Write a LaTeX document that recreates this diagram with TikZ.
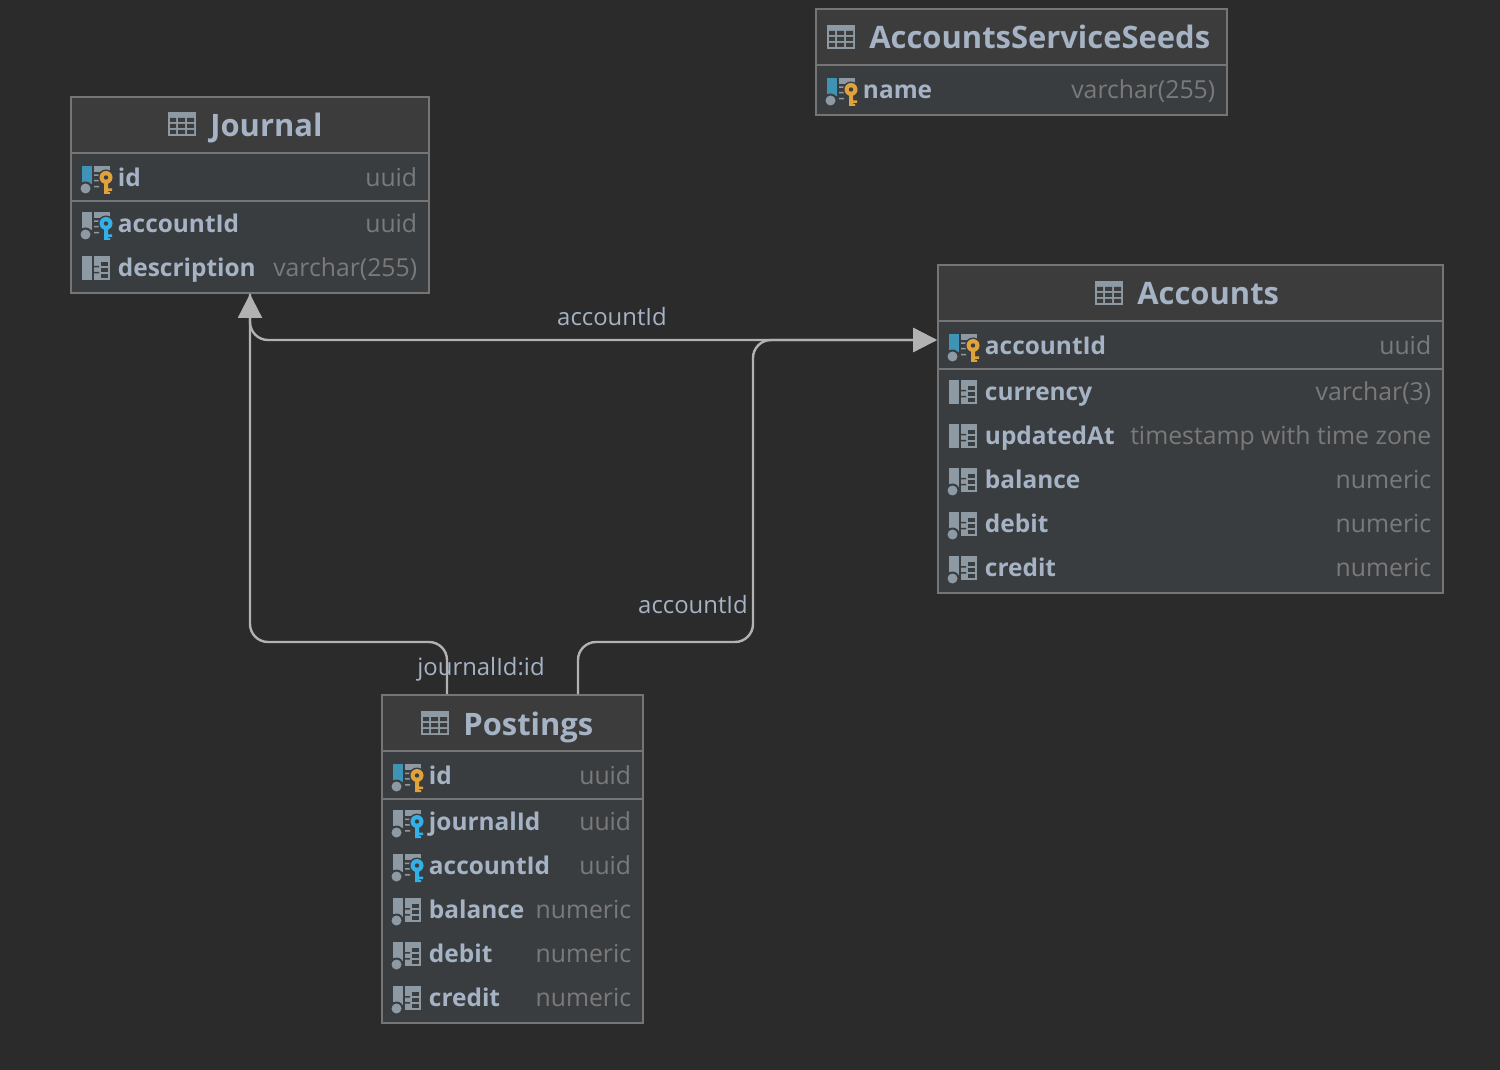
\documentclass[tikz,border=0pt]{standalone}
\usepackage{fontspec}
\setmainfont{Open Sans}
\usetikzlibrary{arrows.meta,fit}

\definecolor{canvasbg}{HTML}{2B2B2B}
\definecolor{headbg}{HTML}{3C3C3C}
\definecolor{rowbg}{HTML}{3A3D40}
\definecolor{framecol}{HTML}{757575}
\definecolor{textcol}{HTML}{A5B3C5}
\definecolor{typecol}{HTML}{7A7A7A}
\definecolor{relcol}{HTML}{B2B2B2}
\definecolor{iconcol}{HTML}{8D9AA3}
\definecolor{pkblue}{HTML}{3F94B5}
\definecolor{keyorange}{HTML}{E0A23B}
\definecolor{keycyan}{HTML}{35B0E6}

\tikzset{
  tablebox/.style={draw=framecol, fill=rowbg, line width=2*0.569pt, inner sep=0pt},
  headbox/.style={draw=framecol, fill=headbg, line width=2*0.569pt, inner sep=0pt},
  sepline/.style={draw=framecol, line width=2*0.569pt},
  titletext/.style={anchor=base west, inner sep=0pt, text=textcol, font=\fontsize{17.6}{20}\selectfont\bfseries},
  colname/.style={anchor=base west, inner sep=0pt, text=textcol, font=\fontsize{13.9}{16}\selectfont\bfseries},
  coltype/.style={anchor=base east, inner sep=0pt, text=typecol, font=\fontsize{14.1}{16}\selectfont},
  rellabel/.style={anchor=base, inner sep=0pt, text=textcol, font=\fontsize{13.6}{16}\selectfont},
  relline/.style={draw=relcol, line width=2.4*0.569pt, rounded corners=0.36cm},
  reltip/.style={-{Triangle[length=0.48cm,width=0.48cm,fill=relcol]}},
  pics/tableicon/.style={code={
    \fill [iconcol] (0,0) rectangle (28,24);
    \foreach \rowtop in {6,12,18} {
      \fill [headbg] (2,\rowtop) rectangle (8,\rowtop+4) (10,\rowtop) rectangle (17,\rowtop+4) (19,\rowtop) rectangle (26,\rowtop+4);
    }
  }},
  pics/gridpart/.style={code={
    \fill [iconcol] (12,0) rectangle (28,24);
    \foreach \rowtop in {6,12,18} {
      \fill [rowbg] (19,\rowtop) rectangle (26,\rowtop+4);
    }
    \fill [rowbg] (12,10) rectangle (17,11.5) (12,16) rectangle (17,17.5);
  }},
  pics/plainicon/.style={code={
    \fill [iconcol] (0,0) rectangle (10,24);
    \pic {gridpart};
  }},
  pics/nulicon/.style={code={
    \fill [iconcol] (0,0) rectangle (10,24);
    \pic {gridpart};
    \fill [rowbg] (3.5,22.5) circle [radius=7];
    \fill [iconcol] (3.5,22.5) circle [radius=5];
  }},
  pics/keyicon/.style 2 args={code={
    \fill [#1] (0,0) rectangle (10,18);
    \fill [rowbg] (3.5,22.5) circle [radius=7];
    \fill [iconcol] (3.5,22.5) circle [radius=5];
    \fill [iconcol] (12,0) rectangle (28,6);
    \fill [iconcol] (12,8.5) rectangle (17,10) (12,14) rectangle (17,15.5) (12,20) rectangle (17,21.5);
    \fill [rowbg] (24,11.5) circle [radius=8];
    \fill [#2] (24,11.5) circle [radius=6.5];
    \fill [rowbg] (24,11.5) circle [radius=2.2];
    \fill [#2] (22,17) rectangle (26,28) (25,22.5) rectangle (30,25) (25,26) rectangle (28,28);
  }},
}

% one column line of a table: node prefix, left, right, y, icon, name, type
\newcommand{\dbrow}[7]{
  \pic at (#2+11,#4-11) {#5};
  \node (#1name) [colname] at (#2+46.6,#4+9.5) {#6};
  \node (#1type) [coltype] at (#3-11.5,#4+9.5) {#7};
}

\begin{document}
\begin{tikzpicture}[x=0.02cm, y=-0.02cm]
\useasboundingbox (0,0) rectangle (1500,1070);
\fill [canvasbg] (0,0) rectangle (1500,1070);

% Journal
\node (journal) [tablebox, fit={(71,97) (429,293)}] {};
\node (journalhead) [headbox, fit={(71,97) (429,153)}] {};
\draw [sepline] (71,201) -- (429,201);
\pic at (168,112) {tableicon};
\node (journaltitle) [titletext] at (210,137) {Journal};
\dbrow{journalid}{71}{429}{177}{keyicon={pkblue}{keyorange}}{id}{uuid}
\dbrow{journalacc}{71}{429}{223}{keyicon={iconcol}{keycyan}}{accountId}{uuid}
\dbrow{journaldesc}{71}{429}{267}{plainicon}{description}{varchar(255)}

% AccountsServiceSeeds
\node (seeds) [tablebox, fit={(816,9) (1227,115)}] {};
\node (seedshead) [headbox, fit={(816,9) (1227,65)}] {};
\pic at (827,25) {tableicon};
\node (seedstitle) [titletext] at (869,49) {AccountsServiceSeeds};
\dbrow{seedsname}{816}{1227}{89}{keyicon={pkblue}{keyorange}}{name}{varchar(255)}

% Accounts
\node (accounts) [tablebox, fit={(938,265) (1443,593)}] {};
\node (accountshead) [headbox, fit={(938,265) (1443,321)}] {};
\draw [sepline] (938,369) -- (1443,369);
\pic at (1095,281) {tableicon};
\node (accountstitle) [titletext] at (1137,305) {Accounts};
\dbrow{accid}{938}{1443}{345}{keyicon={pkblue}{keyorange}}{accountId}{uuid}
\dbrow{acccur}{938}{1443}{391}{plainicon}{currency}{varchar(3)}
\dbrow{accupd}{938}{1443}{435}{plainicon}{updatedAt}{timestamp with time zone}
\dbrow{accbal}{938}{1443}{479}{nulicon}{balance}{numeric}
\dbrow{accdeb}{938}{1443}{523}{nulicon}{debit}{numeric}
\dbrow{acccre}{938}{1443}{567}{nulicon}{credit}{numeric}

% Postings
\node (postings) [tablebox, fit={(382,695) (643,1023)}] {};
\node (postingshead) [headbox, fit={(382,695) (643,751)}] {};
\draw [sepline] (382,799) -- (643,799);
\pic at (421,711) {tableicon};
\node (postingstitle) [titletext] at (463,735) {Postings};
\dbrow{postid}{382}{643}{775}{keyicon={pkblue}{keyorange}}{id}{uuid}
\dbrow{postjour}{382}{643}{821}{keyicon={iconcol}{keycyan}}{journalId}{uuid}
\dbrow{postacc}{382}{643}{865}{keyicon={iconcol}{keycyan}}{accountId}{uuid}
\dbrow{postbal}{382}{643}{909}{nulicon}{balance}{numeric}
\dbrow{postdeb}{382}{643}{953}{nulicon}{debit}{numeric}
\dbrow{postcre}{382}{643}{997}{nulicon}{credit}{numeric}

% connectors
\coordinate (accountspin) at (937,340);
\coordinate (postjourpin) at (447,694);
\coordinate (postaccpin) at (578,694);
\coordinate (postaccturn) at (753,642);
\coordinate (postjourturn) at (250,642);
\draw [relline, reltip] (journal.south) |- (accountspin);
\draw [relline, reltip] (postaccpin) |- (postaccturn) |- (accountspin);
\draw [relline, reltip] (postjourpin) |- (postjourturn) -- (journal.south);

\node (labeljournal) [rellabel] at (612,326) {accountId};
\node (labelpostacc) [rellabel] at (693,613) {accountId};
\node (labelpostjour) [rellabel] at (481,675) {journalId:id};
\end{tikzpicture}
\end{document}
